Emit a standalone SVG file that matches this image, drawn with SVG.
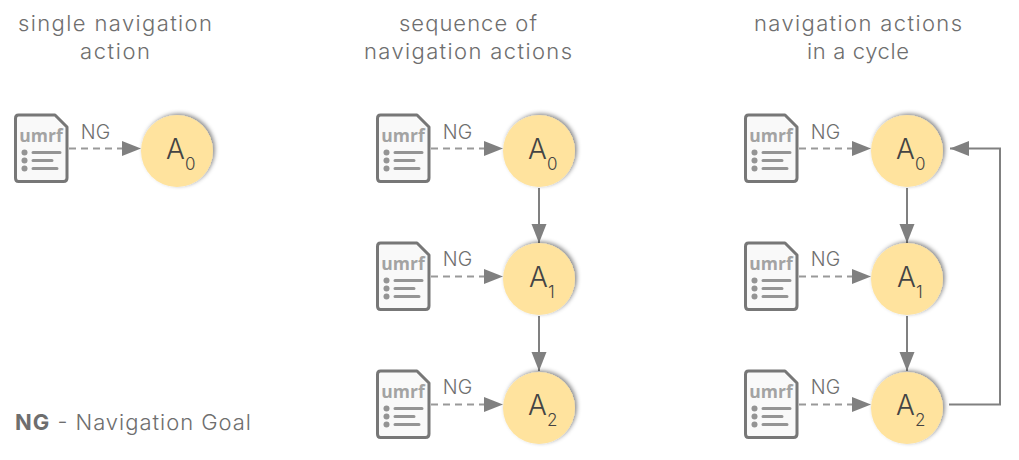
<svg xmlns="http://www.w3.org/2000/svg" width="1019" height="460" viewBox="0 0 1019 460">
<style>
text{font-family:"Inter","Open Sans","Liberation Sans",sans-serif;font-weight:300;fill:#6e6e6e}
.t{font-size:22px;text-anchor:middle}
.ng{font-size:19.500px;text-anchor:middle}
.a{font-size:28px;fill:#444}
.s{font-size:17px;fill:#444}
.u{font-size:17.500px;font-weight:700;fill:#a3a3a3;text-anchor:middle;font-family:"Open Sans","Liberation Sans",sans-serif}
.c{fill:#ffe39e;filter:url(#sh)}
.l{fill:none;stroke:#808080;stroke-width:2}
.d{fill:none;stroke:#999;stroke-width:2;stroke-dasharray:7 5}
</style>
<defs>
<filter id="sh" x="-20%" y="-20%" width="140%" height="140%"><feDropShadow dx="2" dy="-1.500" stdDeviation="2" flood-color="#000" flood-opacity=".45"/></filter>
<marker id="ah" markerUnits="userSpaceOnUse" markerWidth="20" markerHeight="16" refX="19" refY="7.500" orient="auto"><path d="M0 0L19 7.500L0 15Z" fill="#808080"/></marker>
<g id="doc">
<path d="M3.500 0H40L52 12V63Q52 66.500 48.500 66.500H3.500Q.5 66.500 .5 63V3.500Q.5 0 3.500 0Z" fill="#f9f9f9" stroke="#777" stroke-width="3" stroke-linejoin="round"/>
<g fill="#949494"><circle cx="9.500" cy="37.500" r="3"/><circle cx="9.500" cy="45.500" r="3"/><circle cx="9.500" cy="53.500" r="3"/></g>
<path d="M18 37.500H45M18 45.500H37M18 53.500H42" stroke="#949494" stroke-width="3" stroke-linecap="round" fill="none"/>
</g>
</defs>
<g id="titles">
<text class="t" x="115" y="31" textLength="194" lengthAdjust="spacing">single navigation</text><text class="t" x="115" y="59" textLength="70" lengthAdjust="spacing">action</text>
<text class="t" x="468" y="31" textLength="138" lengthAdjust="spacing">sequence of</text><text class="t" x="468" y="59" textLength="208" lengthAdjust="spacing">navigation actions</text>
<text class="t" x="858" y="31" textLength="208" lengthAdjust="spacing">navigation actions</text><text class="t" x="858" y="59" textLength="102" lengthAdjust="spacing">in a cycle</text>
</g>
<g id="connectors">
<path class="d" d="M69 148.500H141" marker-end="url(#ah)"/>
<path class="d" d="M431 148.500H503" marker-end="url(#ah)"/>
<path class="d" d="M431 276.500H503" marker-end="url(#ah)"/>
<path class="d" d="M431 404.500H503" marker-end="url(#ah)"/>
<path class="d" d="M799 148.500H871" marker-end="url(#ah)"/>
<path class="d" d="M799 276.500H871" marker-end="url(#ah)"/>
<path class="d" d="M799 404.500H871" marker-end="url(#ah)"/>
<path class="l" d="M539 188V243" marker-end="url(#ah)"/>
<path class="l" d="M539 316V371" marker-end="url(#ah)"/>
<path class="l" d="M907 188V243" marker-end="url(#ah)"/>
<path class="l" d="M907 316V371" marker-end="url(#ah)"/>
<path class="l" d="M949 404.500H1000V148.500H950" marker-end="url(#ah)"/>
</g>
<g id="labels">
<text class="ng" x="95.500" y="139">NG</text><text class="ng" x="457.500" y="139">NG</text><text class="ng" x="457.500" y="266">NG</text><text class="ng" x="457.500" y="394">NG</text><text class="ng" x="825.500" y="139">NG</text><text class="ng" x="825.500" y="266">NG</text><text class="ng" x="825.500" y="394">NG</text>
</g>
<g id="doc-1a"><use href="#doc" x="15" y="115"/><text class="u" x="41" y="142">umrf</text></g>
<g id="doc-2a"><use href="#doc" x="377" y="115"/><text class="u" x="403" y="142">umrf</text></g>
<g id="doc-2b"><use href="#doc" x="377" y="243"/><text class="u" x="403" y="270">umrf</text></g>
<g id="doc-2c"><use href="#doc" x="377" y="371"/><text class="u" x="403" y="398">umrf</text></g>
<g id="doc-3a"><use href="#doc" x="745" y="115"/><text class="u" x="771" y="142">umrf</text></g>
<g id="doc-3b"><use href="#doc" x="745" y="243"/><text class="u" x="771" y="270">umrf</text></g>
<g id="doc-3c"><use href="#doc" x="745" y="371"/><text class="u" x="771" y="398">umrf</text></g>
<g id="a0-1"><circle class="c" cx="177" cy="151" r="36"/><text class="a" x="166" y="159">A</text><text class="s" x="185" y="170">0</text></g>
<g id="a0-2"><circle class="c" cx="539" cy="151" r="36"/><text class="a" x="528" y="159">A</text><text class="s" x="547" y="170">0</text></g>
<g id="a1-2"><circle class="c" cx="539" cy="279" r="36"/><text class="a" x="529" y="287">A</text><text class="s" x="548" y="298">1</text></g>
<g id="a2-2"><circle class="c" cx="539" cy="408" r="36"/><text class="a" x="528" y="415">A</text><text class="s" x="547" y="426">2</text></g>
<g id="a0-3"><circle class="c" cx="907" cy="151" r="36"/><text class="a" x="896" y="159">A</text><text class="s" x="915" y="170">0</text></g>
<g id="a1-3"><circle class="c" cx="907" cy="279" r="36"/><text class="a" x="897" y="287">A</text><text class="s" x="916" y="298">1</text></g>
<g id="a2-3"><circle class="c" cx="907" cy="408" r="36"/><text class="a" x="896" y="415">A</text><text class="s" x="915" y="426">2</text></g>
<g id="legend"><text x="15" y="430" textLength="236" lengthAdjust="spacing" style="font-size:22px"><tspan style="font-weight:700">NG</tspan> - Navigation Goal</text></g>
</svg>
